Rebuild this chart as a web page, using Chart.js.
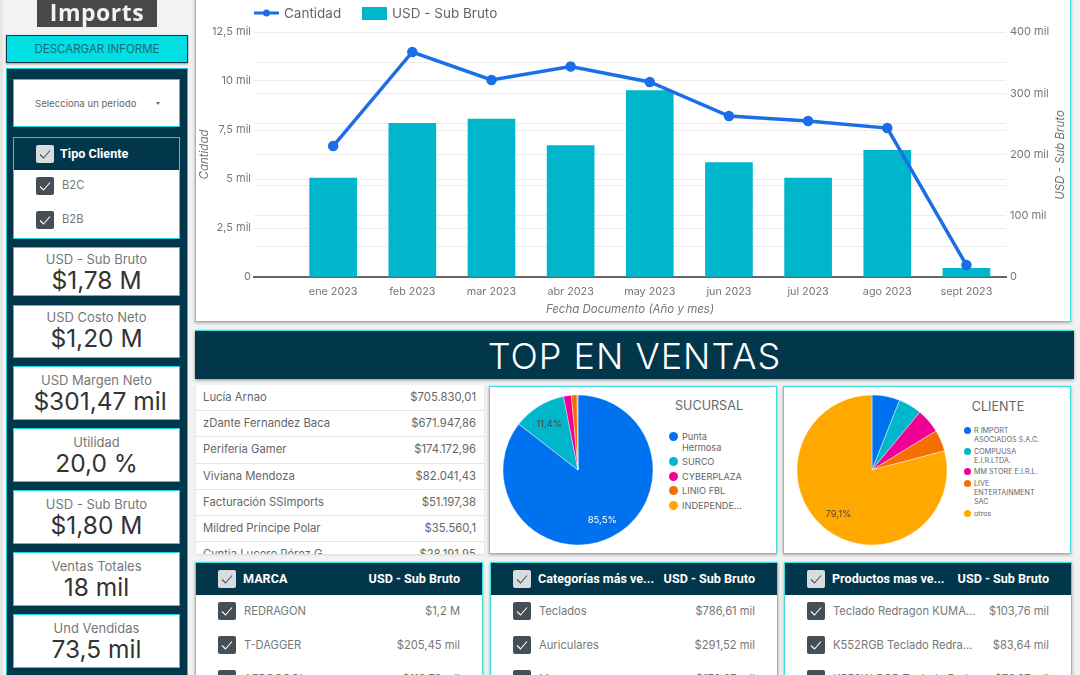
<!DOCTYPE html>
<html>
<head>
<meta charset="utf-8">
<script src="https://cdn.jsdelivr.net/npm/chart.js@4"></script>
<style>
* { box-sizing: border-box; }
html, body { margin: 0; width: 1080px; height: 675px; overflow: hidden; background: #f2f2f2; font-family: Inter, "Open Sans", sans-serif; color: #666; }
.abs { position: absolute; }
.card { position: absolute; background: #fff; border: 1.5px solid #3fdde2; box-shadow: 0 1px 3px rgba(0,0,0,.3); overflow: hidden; }
#logo { left: 37px; top: 0; width: 120px; height: 27px; background: #484848; color: #f2f2f2; font: bold 23px/25px "Open Sans", sans-serif; text-align: center; filter: blur(.5px); letter-spacing: .5px; }
#btn { left: 6px; top: 35px; width: 182px; height: 28px; background: #00dfe3; border: 1px solid #0b3a4c; box-shadow: 0 1px 2px rgba(0,0,0,.4); color: #1c6c78; font-size: 11.5px; line-height: 26px; text-align: center; }
#panel { left: 6px; top: 68px; width: 182px; height: 620px; background: #02364b; border: 1.5px solid #12c9d6; }
.white { position: absolute; left: 13px; width: 167px; background: #fff; border: 1px solid #18d5dc; text-align: center; overflow: hidden; }
.kpi-name { font-size: 13px; line-height: 14px; color: #777; }
.kpi-val { font-size: 24.5px; line-height: 29px; color: #333; white-space: nowrap; }
#period { font-size: 9.6px; line-height: 47px; color: #666; text-align: left; padding-left: 21px; }
#period span { position: absolute; left: 142px; top: 0; font-size: 4px; }
.navy { background: #02364b; color: #fff; font: bold 12.6px/32px Roboto, sans-serif; }
.chk { position: absolute; width: 18px; height: 18px; }
#banner { left: 195px; top: 330px; width: 879px; height: 49px; background: #02364b; border-top: 1px solid #3fdde2; box-shadow: 0 1px 3px rgba(0,0,0,.4); color: #fff; font-size: 36px; font-weight: 300; letter-spacing: 1px; line-height: 50px; text-align: center; }
.row { position: absolute; left: 0; width: 100%; height: 26.2px; border-bottom: 1.5px solid #e6e6e6; font-size: 11.3px; line-height: 24px; color: #666; white-space: nowrap; }
.row b { font-weight: 400; position: absolute; right: 8px; }
.row i { font-style: normal; position: absolute; left: 7px; }
.sel { position: absolute; font-size: 11.2px; color: #777; white-space: nowrap; }
.pie-title { position: absolute; font-size: 12.6px; line-height: 14px; color: #666; text-align: center; white-space: nowrap; }
.leg { position: absolute; }
.leg div { position: relative; color: #666; }
.leg s { position: absolute; border-radius: 50%; text-decoration: none; }
canvas { position: absolute; }
.lg { position: absolute; top: 6px; font-size: 13.5px; line-height: 15px; color: #666; white-space: nowrap; }
#rightTitle { left: 1010px; top: 147px; width: 100px; height: 16px; color: #757575; font-size: 11.5px; line-height: 16px; font-style: italic; text-align: center; transform: rotate(-90deg); white-space: nowrap; }
</style>
</head>
<body>
<div id="page"></div>
<script>
// data
const months = ['ene 2023', 'feb 2023', 'mar 2023', 'abr 2023', 'may 2023', 'jun 2023', 'jul 2023', 'ago 2023', 'sept 2023'];
const cantidad = [6680, 11480, 10050, 10740, 9950, 8210, 7960, 7600, 610];
const subBruto = [161600, 251000, 258000, 214700, 304500, 187000, 161600, 207000, 14000];
const leftTicks = ['0', '2,5 mil', '5 mil', '7,5 mil', '10 mil', '12,5 mil'];
const rightTicks = ['0', '', '100 mil', '', '200 mil', '', '300 mil', '', '400 mil'];

const kpiNames = ['USD - Sub Bruto', 'USD Costo Neto', 'USD Margen Neto', 'Utilidad', 'USD - Sub Bruto', 'Ventas Totales', 'Und Vendidas'];
const kpiValues = ['$1,78 M', '$1,20 M', '$301,47 mil', '20,0 %', '$1,80 M', '18 mil', '73,5 mil'];

const sellers = ['Lucía Arnao', 'zDante Fernandez Baca', 'Periferia Gamer', 'Viviana Mendoza', 'Facturación SSImports', 'Mildred Príncipe Polar', 'Cyntia Lucero Pérez G.'];
const sellerSales = ['$705.830,01', '$671.947,86', '$174.172,96', '$82.041,43', '$51.197,38', '$35.560,1', '$28.191,95'];

const sucursalLabels = [['Punta', 'Hermosa'], ['SURCO'], ['CYBERPLAZA'], ['LINIO FBL'], ['INDEPENDE...']];
const sucursalValues = [85.5, 11.4, 1.7, 1.2, 0.2];
const clienteLabels = [['R IMPORT', 'ASOCIADOS S.A.C.'], ['COMPUUSA', 'E.I.R.LTDA.'], ['MM STORE E.I.R.L.'], ['LIVE', 'ENTERTAINMENT', 'SAC'], ['otros']];
const clienteValues = [6.0, 5.0, 5.3, 4.6, 79.1];
const pieColors = ['#0072f0', '#00b6cb', '#f10096', '#f66d00', '#ffa800'];

const marcas = ['REDRAGON', 'T-DAGGER', 'AEROCOOL'];
const marcaSales = ['$1,2 M', '$205,45 mil', '$119,79 mil'];
const categorias = ['Teclados', 'Auriculares', 'Mouse'];
const categoriaSales = ['$786,61 mil', '$291,52 mil', '$170,07 mil'];
const productos = ['Teclado Redragon KUMA...', 'K552RGB Teclado Redra...', 'K552W-RGB Teclado Red...'];
const productoSales = ['$103,76 mil', '$83,64 mil', '$76,07 mil'];

const page = document.getElementById('page');

function add(cls, css, html) {
    const d = document.createElement('div');
    d.className = cls;
    d.style.cssText = css;
    d.innerHTML = html || '';
    page.appendChild(d);
    return d;
}

function checkbox(x, y, light) {
    const bg = light ? '#d8dcdf' : '#444f57';
    const fg = light ? '#4a5560' : '#fff';
    return `<svg class="chk" style="left:${x}px;top:${y}px" viewBox="0 0 18 18"><rect width="18" height="18" rx="2" fill="${bg}"/><path d="M4 9.5l3.5 3.5L14 5.5" fill="none" stroke="${fg}" stroke-width="1.1"/></svg>`;
}

// left column
add('abs', 'left:0;top:0;width:3px;height:675px;background:#e4e4e4');
add('abs', '', 'Imports').id = 'logo';
add('abs', '', 'DESCARGAR INFORME').id = 'btn';
add('abs', '').id = 'panel';
add('white', 'top:79px;height:48px', 'Selecciona un periodo<span>&#9660;</span>').id = 'period';
add('white', 'top:137px;height:102px',
    '<div class="navy" style="height:32px;text-align:left;padding-left:46px;">Tipo Cliente</div>' +
    checkbox(22, 7, true) + checkbox(22, 39, false) + checkbox(22, 73, false) +
    '<div class="sel" style="left:48px;top:40px">B2C</div><div class="sel" style="left:48px;top:74px">B2B</div>');

const kpiTops = [247, 305, 366, 428, 490, 552, 614];
const kpiHeights = [49, 53, 54, 54, 54, 54, 54];
kpiNames.forEach((name, i) => {
    const pad = i < 2 ? 4 : 6;
    const shift = i === 2 ? 'margin-left:7px' : '';
    add('white', `top:${kpiTops[i]}px;height:${kpiHeights[i]}px;padding-top:${pad}px`,
        `<div class="kpi-name">${name}</div><div class="kpi-val" style="${shift}">${kpiValues[i]}</div>`);
});

// main chart card
add('card', 'left:195px;top:-10px;width:876px;height:332px');
const chartCanvas = document.createElement('canvas');
chartCanvas.style.cssText = 'left:195px;top:0';
chartCanvas.width = 876;
chartCanvas.height = 322;
page.appendChild(chartCanvas);

// legend
add('abs', 'left:254px;top:8px', '<svg width="25" height="10" style="display:block"><line x1="0" y1="5" x2="25" y2="5" stroke="#1a6fe8" stroke-width="3"/><circle cx="12.5" cy="5" r="3.5" fill="#1a6fe8"/></svg>');
add('lg', 'left:284px', 'Cantidad');
add('abs', 'left:362px;top:7px;width:25px;height:13px;background:#00b6cb');
add('lg', 'left:392px', 'USD - Sub Bruto');
add('abs', '', 'USD - Sub Bruto').id = 'rightTitle';

add('abs', '', 'TOP EN VENTAS').id = 'banner';

// sellers table
const sellerBox = add('abs', 'left:196px;top:385px;width:288px;height:169px;background:#fff;overflow:hidden;box-shadow:0 1px 2px rgba(0,0,0,.1)');
sellers.forEach((name, i) => {
    const r = document.createElement('div');
    r.className = 'row';
    r.style.top = (i * 26.2) + 'px';
    r.innerHTML = `<i>${name}</i><b>${sellerSales[i]}</b>`;
    sellerBox.appendChild(r);
});

// pies
function pieCard(left, title, titleX, titleY, labels, legendCss, pad, dot, lineH, gap, fontSize, centerX) {
    add('card', `left:${left}px;top:386px;width:288px;height:168px`);
    add('pie-title', `left:${titleX - 60}px;width:120px;top:${titleY}px`, title);
    const leg = add('leg', legendCss);
    labels.forEach((lines, i) => {
        const it = document.createElement('div');
        it.style.cssText = `font-size:${fontSize}px;line-height:${lineH}px;margin-bottom:${gap}px;padding-left:${pad}px;white-space:nowrap`;
        it.innerHTML = `<s style="left:0;top:${(lineH - dot) / 2}px;width:${dot}px;height:${dot}px;background:${pieColors[i]}"></s>${lines.join('<br>')}`;
        leg.appendChild(it);
    });
    const c = document.createElement('canvas');
    c.style.cssText = `left:${centerX - 80}px;top:390px`;
    c.width = 160;
    c.height = 160;
    page.appendChild(c);
    return c;
}

// percent labels on the big slices only
const sliceLabels = {
    id: 'sliceLabels',
    afterDatasetDraw(chart) {
        const ctx = chart.ctx;
        const arcs = chart.getDatasetMeta(0).data;
        const vals = chart.data.datasets[0].data;
        ctx.save();
        ctx.font = '9.5px Inter';
        ctx.textAlign = 'center';
        ctx.textBaseline = 'middle';
        arcs.forEach((arc, i) => {
            if (vals[i] < 10) return;
            const mid = (arc.startAngle + arc.endAngle) / 2;
            ctx.fillStyle = i === 0 ? '#fff' : '#4a4a4a';
            ctx.fillText(String(vals[i]).replace('.', ',') + '%', arc.x + Math.cos(mid) * 55, arc.y + Math.sin(mid) * 55 + 1);
        });
        ctx.restore();
    }
};

function drawPie(canvas, labels, values) {
    return new Chart(canvas, {
        type: 'pie',
        data: {
            labels: labels.map(l => l.join(' ')),
            datasets: [{ data: values, backgroundColor: pieColors, borderColor: '#fff', borderWidth: 0.4 }]
        },
        options: {
            responsive: false,
            animation: false,
            radius: 75,
            layout: { padding: 0 },
            plugins: { legend: { display: false }, tooltip: { enabled: false } }
        },
        plugins: [sliceLabels]
    });
}

const pie1 = pieCard(489, 'SUCURSAL', 709, 399, sucursalLabels, 'left:669px;top:431px', 13, 9, 11, 3.4, 9.2, 578);
const pie2 = pieCard(783, 'CLIENTE', 998, 400, clienteLabels, 'left:964px;top:426px', 10, 7, 9, 2.7, 7.2, 872);
drawPie(pie1, sucursalLabels, sucursalValues);
drawPie(pie2, clienteLabels, clienteValues);

// filter tables at the bottom
function filterTable(left, header, names, sales) {
    const h = `<div class="navy abs" style="left:0;top:0;width:100%;height:32px"><span class="abs" style="left:47px;top:0;white-space:nowrap">${header}</span><span class="abs" style="right:22px;top:0">USD - Sub Bruto</span></div>` + checkbox(22, 7, true);
    let rows = '';
    names.forEach((n, i) => {
        rows += checkbox(22, 39 + i * 34, false) +
            `<div class="sel" style="left:48px;top:${41 + i * 34}px">${n}</div>` +
            `<div class="sel" style="right:22px;top:${41 + i * 34}px">${sales[i]}</div>`;
    });
    add('card', `left:${left}px;top:562px;width:288px;height:125px`, h + rows);
}
filterTable(195, 'MARCA', marcas, marcaSales);
filterTable(490, 'Categorías más ve...', categorias, categoriaSales);
filterTable(784, 'Productos mas ve...', productos, productoSales);

// combo chart, x is linear so the empty half band on the left can be kept
Chart.defaults.font.family = 'Inter';
new Chart(chartCanvas, {
    data: {
        datasets: [
            {
                type: 'line',
                label: 'Cantidad',
                data: months.map((m, i) => ({ x: i, y: cantidad[i] })),
                yAxisID: 'yLeft',
                borderColor: '#1a6fe8',
                backgroundColor: '#1a6fe8',
                borderWidth: 3.5,
                pointRadius: 3.5,
                tension: 0,
                order: 0
            },
            {
                type: 'bar',
                label: 'USD - Sub Bruto',
                data: months.map((m, i) => ({ x: i, y: subBruto[i] })),
                yAxisID: 'yRight',
                backgroundColor: '#00b6cb',
                barThickness: 47,
                order: 1
            }
        ]
    },
    options: {
        responsive: false,
        animation: false,
        layout: { padding: { top: 32 } },
        plugins: { legend: { display: false }, tooltip: { enabled: false } },
        scales: {
            x: {
                type: 'linear',
                offset: false,
                min: -1,
                max: 8.5,
                afterBuildTicks: s => { s.ticks = months.map((m, i) => ({ value: i })); },
                afterFit: s => { s.height = 45; },
                grid: { display: false, offset: false },
                border: { color: '#666', width: 2 },
                ticks: { autoSkip: false, maxRotation: 0, padding: 0, font: { size: 10.8 }, color: '#757575', callback: v => months[v] },
                title: { display: true, text: 'Fecha Documento (Año y mes)', color: '#757575', font: { size: 11.5, style: 'italic' }, padding: { top: 0, bottom: 6 } }
            },
            yLeft: {
                position: 'left',
                min: 0,
                max: 12500,
                afterFit: s => { s.width = 59; },
                afterBuildTicks: s => { s.ticks = leftTicks.map((t, i) => ({ value: i * 2500 })); },
                grid: { color: '#ececec', drawTicks: false },
                border: { display: false },
                ticks: { padding: 3, font: { size: 11 }, color: '#757575', autoSkip: false, callback: (v, i) => leftTicks[i] },
                title: { display: true, text: 'Cantidad', color: '#757575', font: { size: 11.5, style: 'italic' }, padding: { top: 3, bottom: 0 } }
            },
            yRight: {
                position: 'right',
                min: 0,
                max: 400000,
                afterFit: s => { s.width = 65; },
                afterBuildTicks: s => { s.ticks = rightTicks.map((t, i) => ({ value: i * 50000 })); },
                grid: { color: '#ececec', drawTicks: false },
                border: { display: false },
                ticks: { padding: 4, font: { size: 11 }, color: '#757575', autoSkip: false, callback: (v, i) => rightTicks[i] }
            }
        }
    }
});
</script>
</body>
</html>
